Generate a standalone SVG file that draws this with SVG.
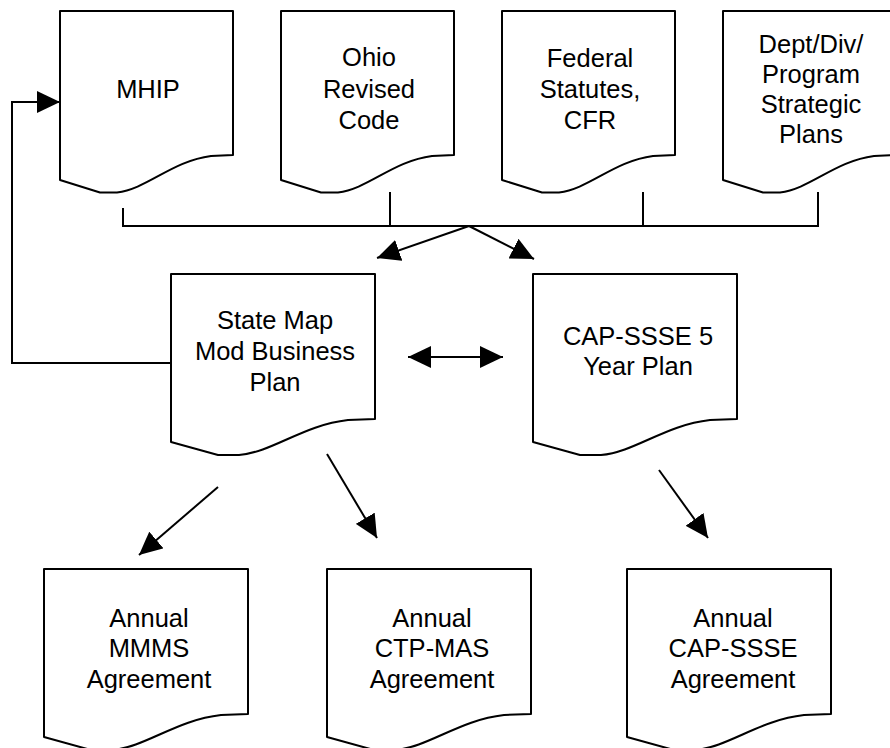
<svg xmlns="http://www.w3.org/2000/svg" xmlns:xlink="http://www.w3.org/1999/xlink" width="890" height="748" viewBox="0 0 890 748">
  <style>
    .doc { fill: #ffffff; stroke: #000000; stroke-width: 2; stroke-linejoin: round; }
    .lbl { font-family: "Liberation Sans", Arial, Helvetica, sans-serif; font-size: 25.5px; fill: #000000; text-anchor: middle; }
    .wire { fill: none; stroke: #000000; stroke-width: 2; }
    .arr { marker-end: url(#head); }
    .both { marker-start: url(#head); marker-end: url(#head); }
  </style>
  <defs>
    <!-- document shape, narrow (top row) -->
    <path id="docS" class="doc" d="M0,0 H173 V144 L151,145 C112,150 87,178 57,181.5 L40,181.5 L0,169 Z"/>
    <!-- document shape, wide (middle and bottom rows) -->
    <path id="docL" class="doc" d="M0,0 H204 V145 L177,146 C132,151 102,178 68,181 L47,181 L0,168 Z"/>
    <marker id="head" markerUnits="userSpaceOnUse" markerWidth="24" markerHeight="22" refX="23" refY="11" orient="auto-start-reverse" viewBox="0 0 24 22">
      <path d="M0,0 L23,11 L0,22 Z" fill="#000000"/>
    </marker>
  </defs>

  <g id="connectors">
    <!-- sources bracket -->
    <path class="wire" d="M123,208 V226 H818 V192"/>
    <path class="wire" d="M390,192 V226"/>
    <path class="wire" d="M643,192 V226"/>
    <!-- bracket to plans -->
    <path class="wire arr" d="M469,226 L377,258"/>
    <path class="wire arr" d="M469,226 L534,259"/>
    <!-- plans link -->
    <path class="wire both" d="M408,357 H503"/>
    <!-- feedback to MHIP -->
    <path class="wire arr" d="M171,363 H12 V102 H60"/>
    <!-- plans to agreements -->
    <path class="wire arr" d="M218,487 L139,555"/>
    <path class="wire arr" d="M327,454 L377,538"/>
    <path class="wire arr" d="M659,470 L708,538"/>
  </g>

  <g id="mhip">
    <use xlink:href="#docS" x="60" y="11"/>
    <text class="lbl" x="148" y="98">MHIP</text>
  </g>

  <g id="ohio-revised-code">
    <use xlink:href="#docS" x="281" y="11"/>
    <text class="lbl" x="369" y="66">Ohio</text>
    <text class="lbl" x="369" y="98">Revised</text>
    <text class="lbl" x="369" y="129">Code</text>
  </g>

  <g id="federal-statutes">
    <use xlink:href="#docS" x="502" y="11"/>
    <text class="lbl" x="590" y="67">Federal</text>
    <text class="lbl" x="590" y="98">Statutes,</text>
    <text class="lbl" x="590" y="129">CFR</text>
  </g>

  <g id="strategic-plans">
    <use xlink:href="#docS" x="723" y="11"/>
    <text class="lbl" x="811" y="53">Dept/Div/</text>
    <text class="lbl" x="811" y="83">Program</text>
    <text class="lbl" x="811" y="113">Strategic</text>
    <text class="lbl" x="811" y="143">Plans</text>
  </g>

  <g id="business-plan">
    <use xlink:href="#docL" x="171" y="274"/>
    <text class="lbl" x="275" y="329">State Map</text>
    <text class="lbl" x="275" y="360">Mod Business</text>
    <text class="lbl" x="275" y="391">Plan</text>
  </g>

  <g id="five-year-plan">
    <use xlink:href="#docL" x="533" y="274"/>
    <text class="lbl" x="638" y="345">CAP-SSSE 5</text>
    <text class="lbl" x="638" y="375">Year Plan</text>
  </g>

  <g id="mmms-agreement">
    <use xlink:href="#docL" x="44" y="569"/>
    <text class="lbl" x="149" y="627">Annual</text>
    <text class="lbl" x="149" y="657">MMMS</text>
    <text class="lbl" x="149" y="688">Agreement</text>
  </g>

  <g id="ctp-mas-agreement">
    <use xlink:href="#docL" x="327" y="569"/>
    <text class="lbl" x="432" y="627">Annual</text>
    <text class="lbl" x="432" y="657">CTP-MAS</text>
    <text class="lbl" x="432" y="688">Agreement</text>
  </g>

  <g id="cap-ssse-agreement">
    <use xlink:href="#docL" x="627" y="569"/>
    <text class="lbl" x="733" y="627">Annual</text>
    <text class="lbl" x="733" y="657">CAP-SSSE</text>
    <text class="lbl" x="733" y="688">Agreement</text>
  </g>
</svg>
